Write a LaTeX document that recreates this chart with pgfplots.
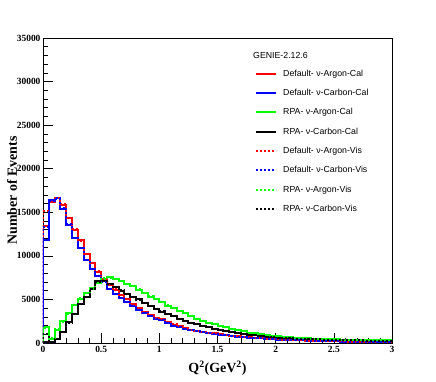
\documentclass[border=0pt]{standalone}
\usepackage{fontspec}
\setmainfont{Liberation Serif}
\newfontfamily\legfont{Liberation Sans}
\usepackage{pgfplots}
\usepackage{pgfplotstable}
\pgfplotsset{compat=1.18}

\definecolor{rootred}{RGB}{255,0,0}
\definecolor{rootblue}{RGB}{0,0,255}
\definecolor{rootgreen}{RGB}{0,255,0}

% bin left edges, Cal (c) and Vis (v) for red/blue/green/black
\pgfplotstableread{
x    rc    bc    gc    kc    rv    bv    gv    kv
0    0     0     0     0     0     0     0     0
0.00 13400 11800 1800  100   15200 13300 1700  1000
0.05 16200 16400 500   100   16300 16300 600   150
0.10 16600 16600 1500  450   16600 16500 1550  500
0.15 15800 15400 2500  1300  15900 15500 2450  1300
0.20 14400 13500 3400  2400  14300 13600 3350  2350
0.25 13000 12100 4400  3300  13100 12100 4350  3350
0.30 11800 10900 5100  4500  11700 10900 5150  4450
0.35 10200 9500  5700  5300  10250 9550  5750  5300
0.40 9200  8500  6300  6200  9150  8500  6250  6200
0.45 8200  7700  6900  7100  8250  7650  6950  7050
0.50 7400  7100  7400  7150  7400  7050  7450  7150
0.55 6700  6200  7550  6750  6700  6250  7500  6800
0.60 6100  5600  7300  6400  6150  5600  7350  6400
0.65 5500  5200  7100  6000  5500  5150  7100  6050
0.70 5000  4700  6800  5650  5050  4700  6800  5650
0.75 4500  4200  6500  5300  4500  4250  6500  5300
0.80 4000  3800  6100  5000  4050  3800  6150  4950
0.85 3500  3400  5700  4600  3550  3400  5700  4600
0.90 3200  3050  5300  4300  3200  3050  5350  4300
0.95 2900  2800  5000  3950  2900  2800  5000  3950
1.00 2700  2600  4700  3600  2700  2600  4700  3650
1.05 2400  2300  4300  3300  2450  2300  4350  3300
1.10 2100  2000  4000  3050  2150  2000  4000  3050
1.15 1900  1800  3700  2800  1900  1800  3700  2800
1.20 1700  1600  3400  2550  1700  1600  3400  2550
1.25 1500  1450  3050  2350  1500  1450  3100  2350
1.30 1400  1350  2800  2200  1400  1350  2800  2200
1.35 1300  1250  2550  2000  1300  1250  2550  2000
1.40 1200  1150  2350  1800  1200  1150  2350  1800
1.45 1100  1050  2200  1650  1100  1050  2200  1650
1.50 1000  950   2000  1500  1000  950   2000  1500
1.55 920   880   1800  1400  920   880   1800  1400
1.60 850   800   1650  1250  850   800   1650  1250
1.65 780   740   1500  1150  780   740   1500  1150
1.70 720   680   1350  1050  720   680   1350  1050
1.75 660   620   1200  950   660   620   1200  950
1.80 600   570   1100  880   600   570   1100  880
1.85 550   520   1000  800   550   520   1000  800
1.90 500   480   900   740   500   480   900   740
1.95 460   440   820   680   460   440   820   680
2.00 420   400   750   620   420   400   750   620
2.05 390   370   700   580   390   370   700   580
2.10 360   340   650   540   360   340   650   540
2.15 330   310   610   510   330   310   610   510
2.20 300   290   570   480   300   290   570   480
2.25 280   270   540   450   280   270   540   450
2.30 260   250   510   430   260   250   510   430
2.35 240   230   480   410   240   230   480   410
2.40 220   210   460   390   220   210   460   390
2.45 200   195   440   370   200   195   440   370
2.50 190   180   420   350   190   180   420   350
2.55 175   165   400   335   175   165   400   335
2.60 165   155   385   320   165   155   385   320
2.65 155   145   370   305   155   145   370   305
2.70 145   135   355   290   145   135   355   290
2.75 135   125   340   280   135   125   340   280
2.80 125   115   325   270   125   115   325   270
2.85 115   110   310   260   115   110   310   260
2.90 110   100   300   250   110   100   300   250
2.95 100   95    290   240   100   95    290   240
3.00 100   95    290   240   100   95    290   240
}\data

\begin{document}
\begin{tikzpicture}
\useasboundingbox (0,0) rectangle (436bp,382bp);
\begin{axis}[
    at={(43bp,39bp)}, anchor=south west,
    scale only axis, width=349bp, height=305bp,
    xmin=0, xmax=3, ymin=0, ymax=35000,
    xtick={0,0.5,...,3}, ytick={0,5000,...,35000},
    scaled y ticks=false,
    minor tick num=4,
    tick align=inside, tick pos=left,
    major tick length=10bp, minor tick length=5bp,
    tick style={black, line width=0.5pt},
    axis line style={line width=0.8pt},
    /pgf/number format/1000 sep={},
    /pgf/number format/assume math mode=true,
    xticklabel={\textbf{\pgfmathprintnumber{\tick}}},
    yticklabel={\textbf{\pgfmathprintnumber[fixed,precision=0]{\tick}}},
    ticklabel style={font=\fontsize{9.5}{10}\selectfont},
    yticklabel style={xshift=1bp},
    xlabel={\bfseries Q\textsuperscript{2}(GeV\textsuperscript{2})},
    ylabel={\bfseries Number of Events},
    label style={font=\fontsize{14}{16}\selectfont},
    xlabel style={at={(axis description cs:0.5,-0.082)}, anchor=center},
    ylabel style={at={(axis description cs:-0.089,0.5)}, anchor=center, rotate=0},
    legend image code/.code={\draw[#1] (0bp,0bp) -- (20bp,0bp); \path (26bp,0bp);},
    legend cell align=left,
    legend style={at={(axis description cs:0.6075,0.8977)}, anchor=north west,
        draw=none, fill=none, inner sep=0pt, row sep=10.3bp,
        font=\legfont\fontsize{8.8}{10}\selectfont,
        nodes={inner sep=0pt, text height=7bp, text depth=2bp}},
    every axis plot/.append style={const plot mark left, line width=2bp, no markers},
]
\addplot[rootred]   table[x=x, y=rc] {\data};
\addlegendentry{Default- ν-Argon-Cal}
\addplot[rootblue]  table[x=x, y=bc] {\data};
\addlegendentry{Default- ν-Carbon-Cal}
\addplot[rootgreen] table[x=x, y=gc] {\data};
\addlegendentry{RPA- ν-Argon-Cal}
\addplot[black]     table[x=x, y=kc] {\data};
\addlegendentry{RPA- ν-Carbon-Cal}
\addplot[rootred, dash pattern=on 2bp off 2bp]   table[x=x, y=rv] {\data};
\addlegendentry{Default- ν-Argon-Vis}
\addplot[rootblue, dash pattern=on 2bp off 2bp]  table[x=x, y=bv] {\data};
\addlegendentry{Default- ν-Carbon-Vis}
\addplot[rootgreen, dash pattern=on 2bp off 2bp] table[x=x, y=gv] {\data};
\addlegendentry{RPA- ν-Argon-Vis}
\addplot[black, dash pattern=on 2bp off 2bp]     table[x=x, y=kv] {\data};
\addlegendentry{RPA- ν-Carbon-Vis}
\node[anchor=west, inner sep=0pt, font=\legfont\fontsize{8.8}{10}\selectfont]
    at (axis description cs:0.6017,0.944) {GENIE-2.12.6};
\end{axis}
\end{tikzpicture}
\end{document}
